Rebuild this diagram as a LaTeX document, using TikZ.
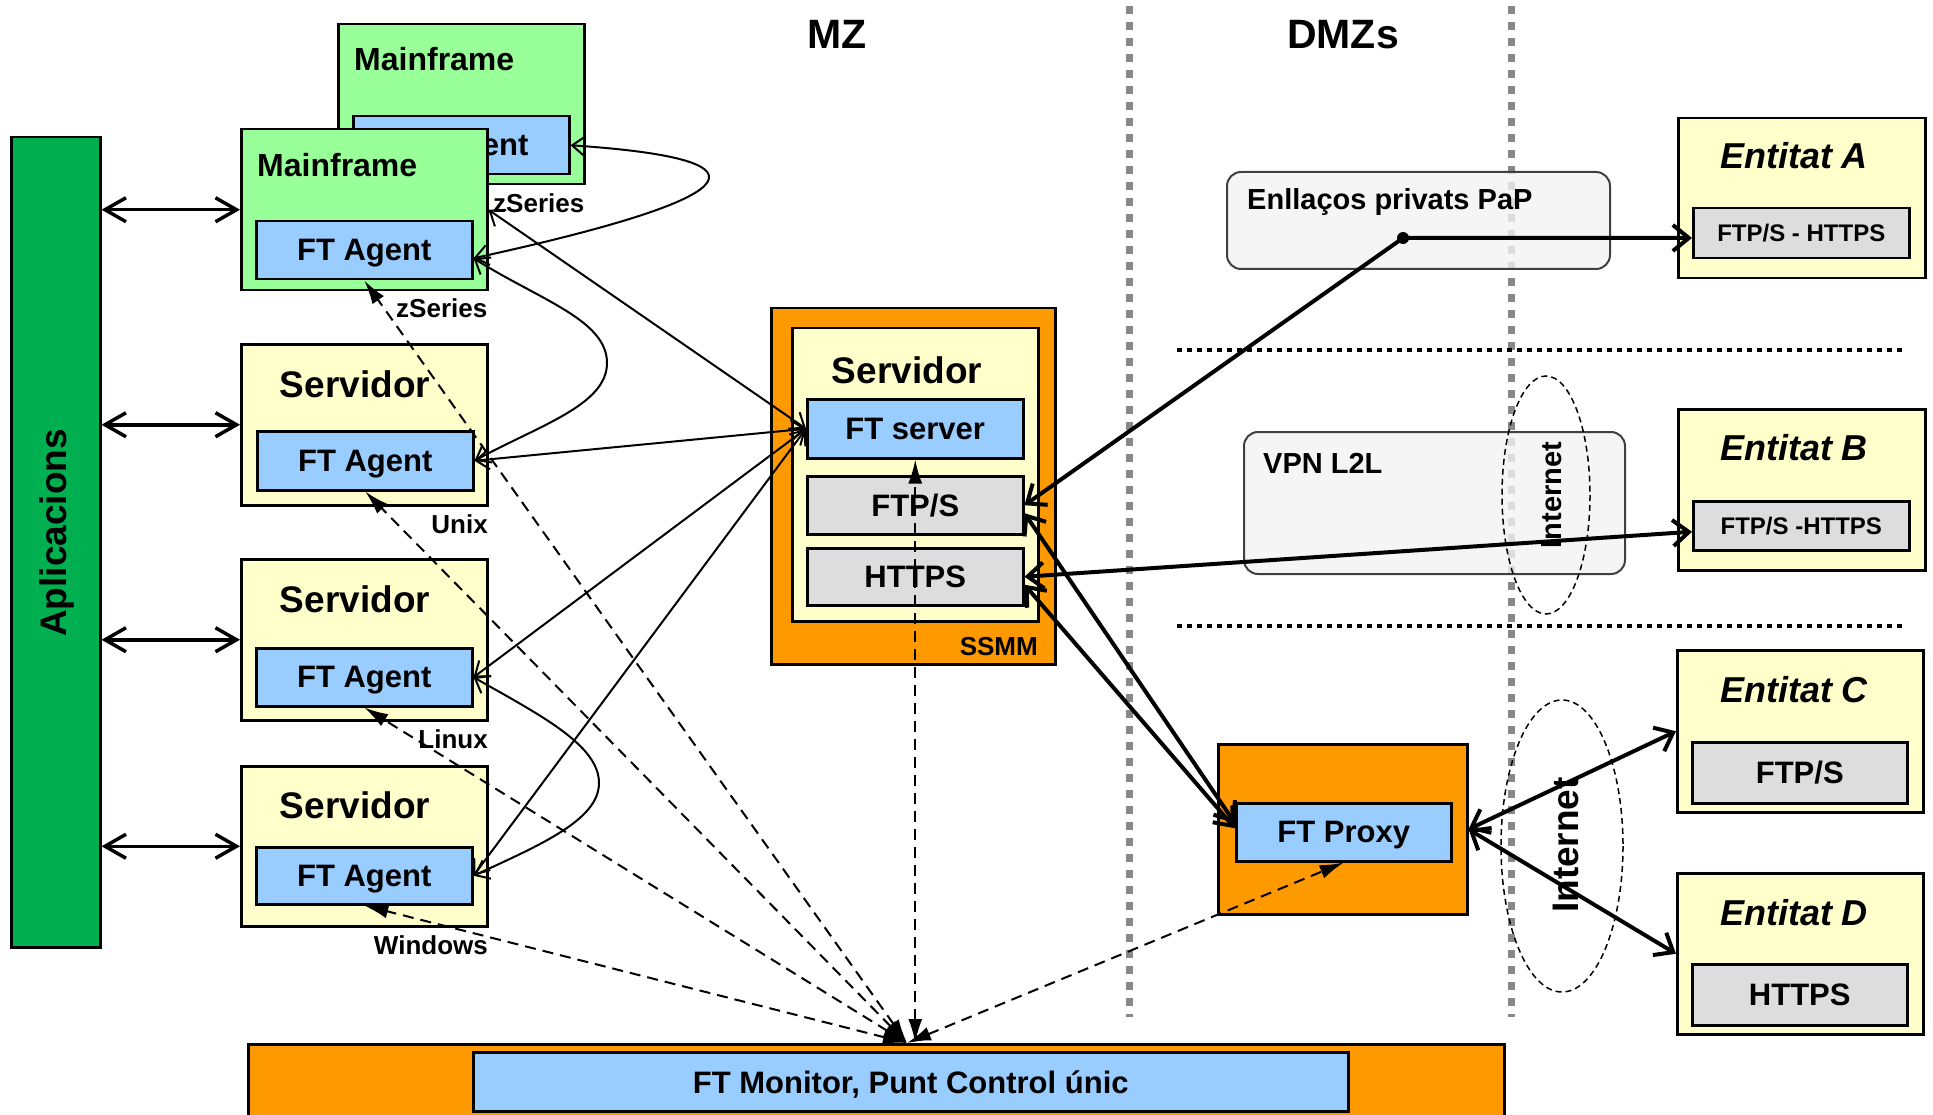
\documentclass[tikz,border=0pt]{standalone}
\usepackage{fontspec}
\setmainfont{Liberation Sans}
\usetikzlibrary{arrows.meta,calc}
\definecolor{mfgreen}{HTML}{99FF99}
\definecolor{srvyellow}{HTML}{FFFFCC}
\definecolor{agblue}{HTML}{99CCFF}
\definecolor{boxgray}{HTML}{DDDDDD}
\definecolor{orng}{HTML}{FF9900}
\definecolor{appgreen}{HTML}{00B050}
\definecolor{rgray}{HTML}{F2F2F2}
\definecolor{dotgray}{HTML}{888888}
\newcommand\fsz[1]{\fontsize{#1}{#1}\selectfont}
\newcommand\bx[8][]{\node[box, fill=#7, minimum width={(#5-#3)*1pt}, minimum height={(#6-#4)*1pt}, #1] (#2) at (#3,#4) {#8};}
\begin{document}
\begin{tikzpicture}[x=1pt,y=-1pt,
  box/.style={draw=black, line width=2.5pt, inner sep=0pt, anchor=north west, text depth=0pt, font=\bfseries\fsz{31}},
  rbox/.style={draw=black!75, line width=2pt, fill=rgray, fill opacity=0.8, rounded corners=14pt, inner sep=0pt, anchor=north west},
  lbl/.style={inner sep=0pt},
  thinarr/.style={line width=2pt, >={Straight Barb[length=13pt,width=20pt]}, <->},
  dasharr/.style={line width=2pt, dash pattern=on 11pt off 7pt, >={Latex[length=24pt,width=14pt]}, <->},
  bigarr/.style={line width=4pt, >={Straight Barb[length=16pt,width=26pt]}, <->},
  apparr/.style={line width=3.5pt, >={Straight Barb[length=21pt,width=24pt]}, <->},
  zone/.style={line width=7pt, draw=dotgray, dash pattern=on 8pt off 8pt},
  band/.style={line width=4.5pt, draw=black, dash pattern=on 5pt off 5pt},
  cloud/.style={line width=1.5pt, draw=black, dash pattern=on 6pt off 4pt}
]
\useasboundingbox (0,0) rectangle (1933,1115);
\clip (0,0) rectangle (1933,1115);

% zone separators
\draw[zone] (1129,6) -- (1129,1017);
\draw[zone] (1511,6) -- (1511,1017);
\draw[band] (1177,350) -- (1905,350);
\draw[band] (1177,626) -- (1905,626);

\node[lbl, anchor=base, font=\bfseries\fsz{41}] (tmz) at (837,49) {MZ};
\node[lbl, anchor=base, font=\bfseries\fsz{41}] (tdmz) at (1343,49) {DMZs};

% left side
\bx{app}{10}{136}{99}{946}{appgreen}{}
\node[lbl, rotate=90, font=\bfseries\fsz{37}] (tapp) at (57,533) {Aplicacions};

\bx{mfb}{337}{23}{583}{183}{mfgreen}{}
\node[lbl, anchor=base west, font=\bfseries\fsz{32}] (tmfb) at (354,71) {Mainframe};
\bx{ba}{352}{115}{568}{173}{agblue}{FT Agent}
\bx{mf}{240}{128}{486}{289}{mfgreen}{}
\node[lbl, anchor=base west, font=\bfseries\fsz{32}] (tmf) at (257,177) {Mainframe};
\bx{fa}{255}{220}{471}{278}{agblue}{FT Agent}

\bx{su}{240}{343}{486}{504}{srvyellow}{}
\node[lbl, anchor=base, font=\bfseries\fsz{37}] (tsu) at (355,397) {Servidor};
\bx{ua}{256}{430}{472}{489}{agblue}{FT Agent}
\bx{sl}{240}{558}{486}{719}{srvyellow}{}
\node[lbl, anchor=base, font=\bfseries\fsz{37}] (tsl) at (355,612) {Servidor};
\bx{la}{255}{647}{471}{705}{agblue}{FT Agent}
\bx{sw}{240}{765}{486}{925}{srvyellow}{}
\node[lbl, anchor=base, font=\bfseries\fsz{37}] (tsw) at (355,818) {Servidor};
\bx{wa}{255}{846}{471}{903}{agblue}{FT Agent}

\node[lbl, anchor=base west, font=\bfseries\fsz{26}] (tz1) at (493,213) {zSeries};
\node[lbl, anchor=base west, font=\bfseries\fsz{26}] (tz2) at (396,318) {zSeries};
\node[lbl, anchor=base east, font=\bfseries\fsz{26}] (tunix) at (488,533) {Unix};
\node[lbl, anchor=base east, font=\bfseries\fsz{26}] (tlinux) at (488,748) {Linux};
\node[lbl, anchor=base east, font=\bfseries\fsz{26}] (twin) at (488,954) {Windows};

% SSMM
\bx{ssmm}{770}{307}{1054}{663}{orng}{}
\bx{ssin}{791}{327}{1037}{620}{srvyellow}{}
\node[lbl, anchor=base, font=\bfseries\fsz{37}] (tss) at (907,383) {Servidor};
\bx{fts}{806}{398}{1022}{457}{agblue}{FT server}
\bx{ftps}{806}{475}{1022}{533}{boxgray}{FTP/S}
\bx{https}{806}{547}{1022}{604}{boxgray}{HTTPS}
\node[lbl, anchor=base east, font=\bfseries\fsz{26}] (tssmm) at (1038,655) {SSMM};

% DMZ
\node[rbox, minimum width=383pt, minimum height=97pt] (enll) at (1226,171) {};
\node[lbl, anchor=base west, font=\bfseries\fsz{29}] (tenll) at (1247,210) {Enllaços privats PaP};
\node[rbox, minimum width=381pt, minimum height=142pt] (vpn) at (1243,431) {};
\node[lbl, anchor=base west, font=\bfseries\fsz{29}] (tvpn) at (1263,473) {VPN L2L};

\bx{px}{1217}{743}{1466}{913}{orng}{}
\bx{pxb}{1235}{802}{1450}{860}{agblue}{FT Proxy}

% entities
\bx{eA}{1677}{117}{1924}{277}{srvyellow}{}
\node[lbl, anchor=base, font=\bfseries\itshape\fsz{36}] (teA) at (1794,169) {Entitat A};
\bx[font=\bfseries\fsz{24}]{eAi}{1692}{207}{1908}{257}{boxgray}{FTP/S - HTTPS}
\bx{eB}{1677}{408}{1924}{569}{srvyellow}{}
\node[lbl, anchor=base, font=\bfseries\itshape\fsz{36}] (teB) at (1794,460) {Entitat B};
\bx[font=\bfseries\fsz{24}]{eBi}{1692}{500}{1908}{549}{boxgray}{FTP/S -HTTPS}
\bx{eC}{1676}{649}{1922}{811}{srvyellow}{}
\node[lbl, anchor=base, font=\bfseries\itshape\fsz{36}] (teC) at (1794,702) {Entitat C};
\bx{eCi}{1691}{741}{1906}{802}{boxgray}{FTP/S}
\bx{eD}{1676}{872}{1922}{1033}{srvyellow}{}
\node[lbl, anchor=base, font=\bfseries\itshape\fsz{36}] (teD) at (1794,925) {Entitat D};
\bx{eDi}{1691}{963}{1906}{1024}{boxgray}{HTTPS}

% monitor
\bx{mon}{247}{1043}{1503}{1140}{orng}{}
\bx{monb}{472}{1051}{1347}{1110}{agblue}{FT Monitor, Punt Control únic}

% internet clouds
\draw[cloud] (1546,495) ellipse [x radius=44, y radius=119];
\node[lbl, rotate=90, font=\bfseries\fsz{29}] (tinet1) at (1552,495) {Internet};
\draw[cloud] (1562,846) ellipse [x radius=61, y radius=146];
\node[lbl, rotate=90, font=\bfseries\fsz{37}] (tinet2) at (1566,845) {Internet};

% applications links
\draw[apparr] (app.east |- mf.west) -- (mf.west);
\draw[apparr] (app.east |- su.west) -- (su.west);
\draw[apparr] (app.east |- sl.west) -- (sl.west);
\draw[apparr] (app.east |- sw.west) -- (sw.west);

% agent links
\draw[thinarr] (mf.east) -- (fts.west);
\draw[thinarr] (ua.east) -- (fts.west);
\draw[thinarr] (la.east) -- (fts.west);
\draw[thinarr] (wa.east) -- (fts.west);
\coordinate (fae) at ($(fa.east)+(0,8)$);
\draw[thinarr] (ba.east) .. controls (790,160) and (740,200) .. (fae);
\draw[thinarr] (fae) .. controls (540,300) and (607,320) .. (607,363) .. controls (607,405) and (540,425) .. (ua.east);
\draw[thinarr] (la.east) .. controls (540,715) and (599,745) .. (599,783) .. controls (599,820) and (540,845) .. (wa.east);

% monitoring links
\coordinate (mpt) at (907,1043);
\draw[dasharr] (mpt) -- (fa.south);
\draw[dasharr] (mpt) -- (ua.south);
\draw[dasharr] (mpt) -- (la.south);
\draw[dasharr] (mpt) -- (wa.south);
\draw[dasharr] (fts.south |- mpt) -- (fts.south);
\draw[dasharr] (mpt) -- (pxb.south);

% external links
\coordinate (dot) at (1403,238);
\draw[bigarr] (ftps.east) -- (dot) -- (dot -| eAi.west);
\fill (dot) circle (6);
\draw[bigarr] (https.east) -- ($(eBi.west)+(0,6)$);
\draw[bigarr] ($(ftps.east)+(0,8)$) -- ($(pxb.west)+(0,-9)$);
\draw[bigarr] ($(https.east)+(0,8)$) -- ($(pxb.west)+(0,-4)$);
\draw[bigarr] (px.east) -- (eC.west);
\draw[bigarr] (px.east) -- (eD.west);
\end{tikzpicture}
\end{document}
